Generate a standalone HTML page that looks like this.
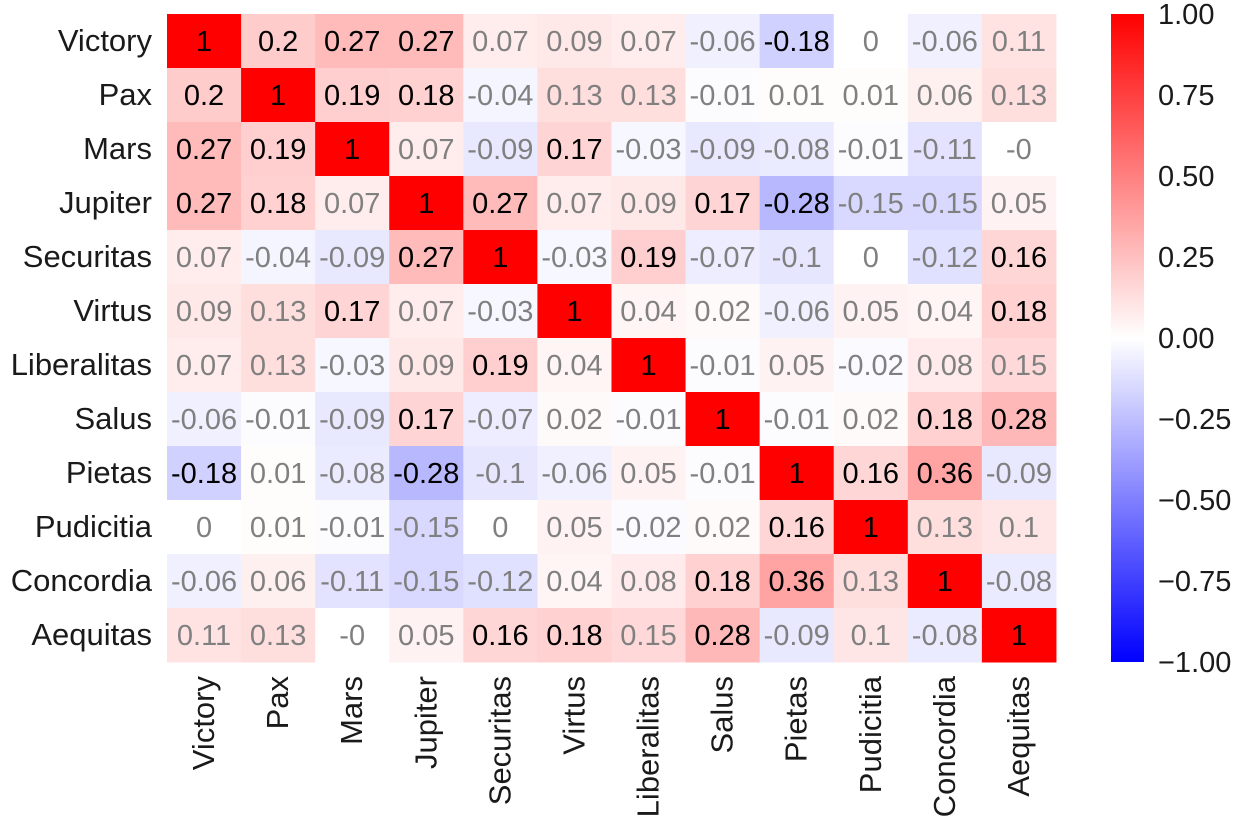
<!DOCTYPE html>
<html><head><meta charset="utf-8"><style>
body{margin:0;background:#fff;}
svg text{font-family:"Liberation Sans",Arial,sans-serif;}
</style></head><body>
<svg id="chart" width="1245" height="834" xmlns="http://www.w3.org/2000/svg">
<defs><linearGradient id="cb" x1="0" y1="0" x2="0" y2="1">
<stop offset="0" stop-color="#ff0000"/><stop offset="0.5" stop-color="#ffffff"/><stop offset="1" stop-color="#0000ff"/>
</linearGradient></defs>
<g id="cells"></g><g id="ylab"></g><g id="xlab"></g>
<rect x="1111" y="14" width="33" height="648" fill="url(#cb)"/>
<g id="cbticks"></g>
</svg>
<script>
const labels=["Victory","Pax","Mars","Jupiter","Securitas","Virtus","Liberalitas","Salus","Pietas","Pudicitia","Concordia","Aequitas"];
const values=[
[1,0.2,0.27,0.27,0.07,0.09,0.07,-0.06,-0.18,0,-0.06,0.11],
[0.2,1,0.19,0.18,-0.04,0.13,0.13,-0.01,0.01,0.01,0.06,0.13],
[0.27,0.19,1,0.07,-0.09,0.17,-0.03,-0.09,-0.08,-0.01,-0.11,-0],
[0.27,0.18,0.07,1,0.27,0.07,0.09,0.17,-0.28,-0.15,-0.15,0.05],
[0.07,-0.04,-0.09,0.27,1,-0.03,0.19,-0.07,-0.1,0,-0.12,0.16],
[0.09,0.13,0.17,0.07,-0.03,1,0.04,0.02,-0.06,0.05,0.04,0.18],
[0.07,0.13,-0.03,0.09,0.19,0.04,1,-0.01,0.05,-0.02,0.08,0.15],
[-0.06,-0.01,-0.09,0.17,-0.07,0.02,-0.01,1,-0.01,0.02,0.18,0.28],
[-0.18,0.01,-0.08,-0.28,-0.1,-0.06,0.05,-0.01,1,0.16,0.36,-0.09],
[0,0.01,-0.01,-0.15,0,0.05,-0.02,0.02,0.16,1,0.13,0.1],
[-0.06,0.06,-0.11,-0.15,-0.12,0.04,0.08,0.18,0.36,0.13,1,-0.08],
[0.11,0.13,-0,0.05,0.16,0.18,0.15,0.28,-0.09,0.1,-0.08,1]];
const cbTicks=[1,0.75,0.5,0.25,0,-0.25,-0.5,-0.75,-1];
const X0=167,Y0=14,CW=74.08,CH=54;
const NS="http://www.w3.org/2000/svg";
function color(v){let r,g,b;if(v>=0){r=255;g=b=Math.round(255*(1-v));}else{r=g=Math.round(255*(1+v));b=255;}return `rgb(${r},${g},${b})`;}
const cells=document.getElementById('cells');
values.forEach((row,i)=>row.forEach((v,j)=>{
 const r=document.createElementNS(NS,'rect');
 r.setAttribute('x',X0+j*CW);r.setAttribute('y',Y0+i*CH);r.setAttribute('width',CW+0.5);r.setAttribute('height',CH+0.5);r.setAttribute('fill',color(v));
 
 
 cells.appendChild(r);
 const t=document.createElementNS(NS,'text');
 t.setAttribute('x',X0+(j+0.5)*CW);t.setAttribute('y',Y0+(i+0.5)*CH+10);t.setAttribute('text-anchor','middle');t.setAttribute('font-size','29');
 t.setAttribute('fill',Math.abs(v)>=0.155?'#000':'#808080');
 t.textContent=(Object.is(v,-0)?'-0':String(v));
 
 
 cells.appendChild(t);
}));
const yl=document.getElementById('ylab'),xl=document.getElementById('xlab');
labels.forEach((l,i)=>{
 const t=document.createElementNS(NS,'text');
 t.setAttribute('x',152);t.setAttribute('y',Y0+(i+0.5)*CH+10);t.setAttribute('text-anchor','end');t.setAttribute('font-size','31');t.setAttribute('fill','#1a1a1a');
 t.textContent=l;
 
 
 yl.appendChild(t);
 const u=document.createElementNS(NS,'text');
 const cx=X0+(i+0.5)*CW+10;
 u.setAttribute('transform',`translate(${cx},676) rotate(-90)`);u.setAttribute('text-anchor','end');u.setAttribute('font-size','31');u.setAttribute('fill','#1a1a1a');
 u.textContent=l;
 
 
 xl.appendChild(u);
});
const cbt=document.getElementById('cbticks');
cbTicks.forEach(v=>{
 const y=14+(1-v)/2*648;
 const t=document.createElementNS(NS,'text');
 t.setAttribute('x',1158);t.setAttribute('y',y+10);t.setAttribute('font-size','29');t.setAttribute('fill','#1a1a1a');
 t.textContent=(v<0?'−':'')+Math.abs(v).toFixed(2);
 
 
 cbt.appendChild(t);
});
</script>
</body></html>
